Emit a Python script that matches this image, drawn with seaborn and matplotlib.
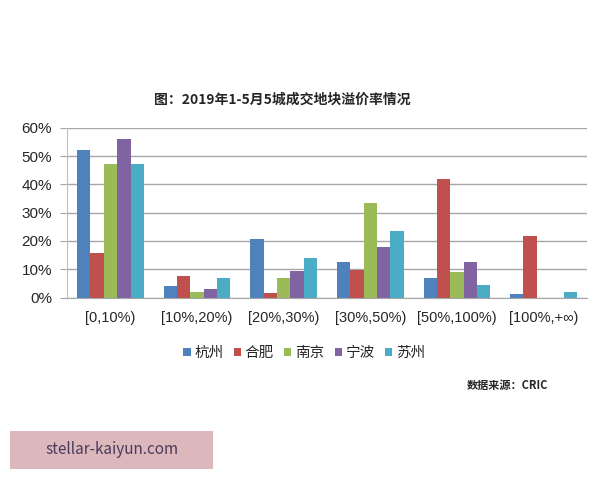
import pandas as pd
import seaborn as sns
import matplotlib.pyplot as plt
from matplotlib.patches import Rectangle

# category bins and city series (percent)
bins = ['[0,10%)', '[10%,20%)', '[20%,30%)', '[30%,50%)', '[50%,100%)', '[100%,+∞)']
cities = ['杭州', '合肥', '南京', '宁波', '苏州']
hangzhou = [52.1, 4.2, 20.7, 12.5, 6.9, 1.4]
hefei = [15.7, 7.6, 1.8, 9.9, 41.8, 21.7]
nanjing = [47.3, 2.0, 6.9, 33.3, 9.1, 0.0]
ningbo = [55.9, 2.9, 9.3, 18.0, 12.7, 0.0]
suzhou = [47.3, 6.9, 14.0, 23.5, 4.5, 2.0]
colors = ['#4F81BD', '#C0504D', '#9BBB59', '#8064A2', '#4BACC6']

rows = []
for city, vals in zip(cities, [hangzhou, hefei, nanjing, ningbo, suzhou]):
    for b, v in zip(bins, vals):
        rows.append({'bin': b, 'city': city, 'value': v})
data = pd.DataFrame(rows)

sns.set_style('white')
plt.rcParams['font.family'] = ['Noto Sans CJK SC', 'DejaVu Sans']

fig = plt.figure(figsize=(6, 4.8), dpi=100)
ax = fig.add_axes([0.112, 0.380, 0.866, 0.354])

sns.barplot(data=data, x='bin', y='value', hue='city', palette=colors,
            width=0.77, gap=0, saturation=1, linewidth=0, edgecolor='none',
            ax=ax, legend=True)

ax.set_ylim(0, 60)
ax.set_yticks(range(0, 61, 10))
ax.set_yticklabels([f'{v}%' for v in range(0, 61, 10)],
                   fontsize=11, family=['Liberation Sans'])
ax.yaxis.grid(True, color='#a6a6a6', linewidth=1)
ax.set_axisbelow(True)
ax.set_xlim(-0.5, len(bins) - 0.5)
ax.set_xticks([i - 0.5 for i in range(len(bins) + 1)], minor=True)
ax.tick_params(axis='x', which='minor', length=5, color='#a6a6a6', direction='out')
ax.tick_params(axis='x', which='major', length=0, pad=10)
ax.tick_params(axis='y', length=5, color='#a6a6a6', direction='out', left=True, pad=6)
for lbl in ax.get_xticklabels():
    lbl.set_fontsize(10.5)
    lbl.set_family(['Liberation Sans', 'DejaVu Sans'])
ax.set_xlabel('')
ax.set_ylabel('')
for side in ['top', 'right']:
    ax.spines[side].set_visible(False)
ax.spines['left'].set_color('#bfbfbf')
ax.spines['bottom'].set_color('#a6a6a6')

handles, labels = ax.get_legend_handles_labels()
ax.legend(handles, labels, ncol=5, loc='center', bbox_to_anchor=(0.507, 0.264),
          bbox_transform=fig.transFigure, frameon=False, fontsize=10.5,
          handlelength=0.5, handleheight=0.5, handletextpad=0.25, columnspacing=0.7)

fig.text(0.471, 0.792, '图：2019年1-5月5城成交地块溢价率情况', ha='center', va='center',
         fontsize=10, fontweight='bold')
fig.text(0.913, 0.196, '数据来源：CRIC', ha='right', va='center',
         fontsize=8, fontweight='bold')

# watermark box
fig.patches.append(Rectangle((10 / 600, 1 - 469 / 480), 203 / 600, 38 / 480,
                             transform=fig.transFigure, facecolor='#dcb8bc',
                             edgecolor='none'))
fig.text(112 / 600, 1 - 450 / 480, 'stellar-kaiyun.com', ha='center', va='center',
         fontsize=11, color='#4a3a5a')

fig.savefig('out.png', dpi=100, facecolor='white')
